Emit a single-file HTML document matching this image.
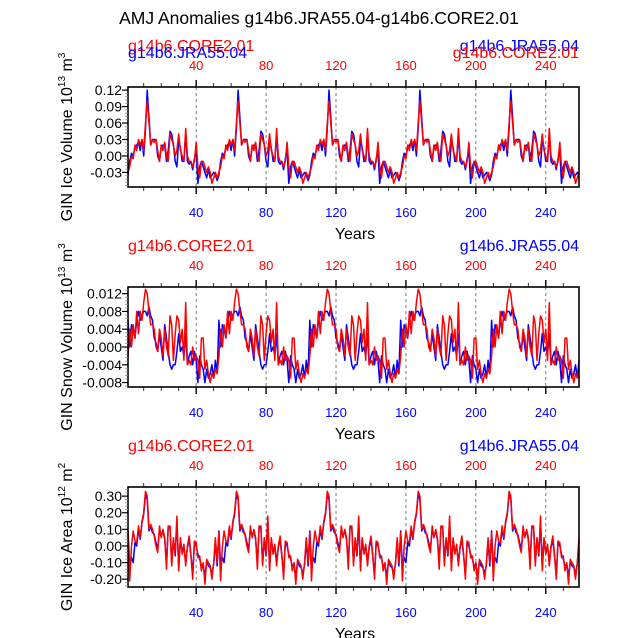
<!DOCTYPE html>
<html><head><meta charset="utf-8"><style>
html,body{margin:0;padding:0;background:#fff}
svg{display:block;font-family:"Liberation Sans",Arial,sans-serif}
</style></head><body>
<svg id="c" width="638" height="638" viewBox="0 0 638 638">
<text x="319" y="24" text-anchor="middle" font-size="17.5" fill="#000">AMJ Anomalies g14b6.JRA55.04-g14b6.CORE2.01</text>
</svg>
<script>
// ---- data (one forcing cycle of 52 years, repeated five times as in the runs) ----
const years = [];
for (let i = 1; i <= 259; i++) years.push(i);
const xTicks = [40, 80, 120, 160, 200, 240];

const iceVolCoreCycle = [-0.03,-0.02,0.0,-0.005,0.02,0.01,0.03,0.02,0.03,0.01,0.06,0.10,0.06,0.02,0.03,0.025,0.03,0.01,-0.01,0.02,0.01,0.025,0.0,-0.01,0.04,0.03,0.02,0.0,0.01,0.04,0.01,0.0,-0.01,0.05,0.0,-0.01,-0.01,-0.02,-0.01,0.025,-0.02,-0.04,-0.01,-0.01,-0.02,-0.03,-0.02,-0.03,-0.05,-0.04,-0.03,-0.04];
const iceVolJraCycle  = [-0.035,-0.01,0.005,0.0,0.015,0.02,0.025,0.01,0.03,0.0,0.05,0.12,0.07,0.02,0.03,0.03,0.03,0.0,-0.01,0.015,0.02,0.02,-0.01,0.01,0.045,0.04,0.02,-0.01,-0.02,0.03,0.015,-0.01,-0.01,0.04,-0.01,-0.015,-0.01,-0.025,-0.005,0.01,-0.05,-0.02,-0.01,-0.02,-0.03,-0.04,-0.025,-0.04,-0.035,-0.03,-0.035,-0.045];
const snowCoreCycle = [-0.002,0.004,0.0,0.005,0.002,0.008,0.003,0.008,0.006,0.010,0.013,0.012,0.008,0.005,0.005,0.004,0.0,-0.001,0.004,0.002,-0.002,0.004,0.0,-0.002,0.007,0.005,-0.003,0.003,0.007,0.006,0.001,0.004,-0.003,0.010,-0.004,-0.003,-0.004,0.0,-0.003,-0.002,-0.003,-0.007,0.002,0.002,-0.005,-0.003,-0.006,-0.008,-0.006,-0.007,-0.005,-0.006];
const snowJraCycle  = [0.006,0.0,0.005,0.004,0.002,0.006,0.008,0.006,0.007,0.008,0.008,0.007,0.009,0.007,0.006,0.002,0.001,-0.001,0.003,0.0,-0.003,0.005,0.002,-0.001,-0.004,-0.005,-0.004,-0.004,-0.001,0.003,-0.001,0.0,-0.002,0.003,-0.004,-0.002,-0.001,-0.004,-0.001,-0.003,-0.008,-0.002,-0.004,-0.005,-0.008,-0.005,-0.007,-0.006,-0.004,-0.007,-0.003,-0.006];
const areaCoreCycle = [0.08,-0.21,0.0,0.09,0.03,0.02,0.12,0.05,0.15,0.20,0.33,0.30,0.10,0.13,0.10,0.06,0.0,-0.04,0.12,0.05,0.10,0.05,-0.14,0.12,0.12,-0.12,0.05,-0.05,0.18,-0.15,0.05,-0.05,0.01,-0.12,0.0,0.06,-0.05,-0.20,0.03,0.02,-0.07,-0.06,-0.15,-0.10,-0.23,-0.08,-0.10,-0.12,-0.20,-0.10,0.05,-0.10];
const areaJraCycle  = [0.09,-0.12,-0.07,-0.10,0.02,0.0,0.10,0.04,0.14,0.19,0.31,0.28,0.09,0.12,0.08,0.07,0.02,-0.02,0.10,0.06,0.09,0.04,-0.10,0.11,0.11,-0.10,0.04,-0.06,0.15,-0.13,0.04,-0.04,0.0,-0.10,-0.01,0.04,-0.06,-0.17,0.02,0.0,-0.05,-0.08,-0.12,-0.11,-0.19,-0.09,-0.12,-0.13,-0.17,-0.11,0.03,-0.12];

const iceVolCore = [...iceVolCoreCycle,...iceVolCoreCycle,...iceVolCoreCycle,...iceVolCoreCycle,...iceVolCoreCycle].slice(0,259);
const iceVolJra  = [...iceVolJraCycle,...iceVolJraCycle,...iceVolJraCycle,...iceVolJraCycle,...iceVolJraCycle].slice(0,259);
const snowCore = [...snowCoreCycle,...snowCoreCycle,...snowCoreCycle,...snowCoreCycle,...snowCoreCycle].slice(0,259);
const snowJra  = [...snowJraCycle,...snowJraCycle,...snowJraCycle,...snowJraCycle,...snowJraCycle].slice(0,259);
const areaCore = [...areaCoreCycle,...areaCoreCycle,...areaCoreCycle,...areaCoreCycle,...areaCoreCycle].slice(0,259);
const areaJra  = [...areaJraCycle,...areaJraCycle,...areaJraCycle,...areaJraCycle,...areaJraCycle].slice(0,259);

const iceVolTicks = [-0.03,0.0,0.03,0.06,0.09,0.12];
const iceVolTickLabels = ["-0.03","0.00","0.03","0.06","0.09","0.12"];
const snowTicks = [-0.008,-0.004,0.0,0.004,0.008,0.012];
const snowTickLabels = ["-0.008","-0.004","0.000","0.004","0.008","0.012"];
const areaTicks = [-0.2,-0.1,0.0,0.1,0.2,0.3];
const areaTickLabels = ["-0.20","-0.10","0.00","0.10","0.20","0.30"];

const NS = "http://www.w3.org/2000/svg";
const svg = document.getElementById('c');
function el(tag, attrs, parent, text) {
  const e = document.createElementNS(NS, tag);
  for (const k in attrs) e.setAttribute(k, attrs[k]);
  if (text !== undefined) e.textContent = text;
  (parent || svg).appendChild(e);
  return e;
}
const X0 = 128, X1 = 579, XMIN = 1, XMAX = 259;
function xs(v) { return X0 + (v - XMIN) / (XMAX - XMIN) * (X1 - X0); }

function panel(p) {
  const g = el('g', {});
  
  
  const top = p.top, bot = p.top + 100;
  const ys = v => bot - (v - p.ymin) / (p.ymax - p.ymin) * (bot - top);
  xTicks.forEach(t => {
    const l = el('line', {x1: xs(t), x2: xs(t), y1: top, y2: bot, stroke: '#555', 'stroke-width': 0.8, 'stroke-dasharray': '3,3'}, g);
    
    
  });
  [[p.jra, '#0000ff', 'series-jra55'], [p.core, '#ff0000', 'series-core2']].forEach(s => {
    let d = '';
    s[0].forEach((v, i) => { d += (i ? 'L' : 'M') + xs(years[i]).toFixed(1) + ',' + ys(v).toFixed(1); });
    const path = el('path', {d: d, fill: 'none', stroke: s[1], 'stroke-width': 1.5, 'stroke-linejoin': 'round'}, g);
    
    
  });
  el('rect', {x: X0, y: top, width: X1 - X0, height: 100, fill: 'none', stroke: '#000', 'stroke-width': 1.6}, g);
  for (let t = 10; t <= 250; t += 10) {
    const major = t % 40 === 0;
    const len = major ? 7 : 4;
    el('line', {x1: xs(t), x2: xs(t), y1: top, y2: top - len, stroke: '#000', 'stroke-width': major ? 1.4 : 0.8}, g);
    el('line', {x1: xs(t), x2: xs(t), y1: bot, y2: bot + len, stroke: '#000', 'stroke-width': major ? 1.4 : 0.8}, g);
  }
  xTicks.forEach(t => {
    const a = el('text', {x: xs(t), y: top - 17, 'text-anchor': 'middle', 'font-size': 13, fill: '#ff0000'}, g, String(t));
    
    
    const b = el('text', {x: xs(t), y: bot + 30, 'text-anchor': 'middle', 'font-size': 13, fill: '#0000ff'}, g, String(t));
    
    
  });
  const step = p.ticks[1] - p.ticks[0];
  for (let v = p.ticks[0] - step; v <= p.ymax + 1e-9; v += step / 5) {
    if (v < p.ymin - 1e-9) continue;
    el('line', {x1: X0, x2: X0 - 3, y1: ys(v), y2: ys(v), stroke: '#888', 'stroke-width': 0.8}, g);
  }
  p.ticks.forEach((t, i) => {
    el('line', {x1: X0, x2: X0 - 6, y1: ys(t), y2: ys(t), stroke: '#000', 'stroke-width': 1.2}, g);
    const lab = el('text', {x: X0 - 6, y: ys(t) + 5, 'text-anchor': 'end', 'font-size': 14, fill: '#000'}, g, p.tickLabels[i]);
    
    
  });
  const yt = el('text', {transform: 'translate(72,' + (top + 50) + ') rotate(-90)', 'text-anchor': 'middle', 'font-size': 16, fill: '#000'}, g);
  
  
  el('tspan', {}, yt, p.ylabel + ' 10');
  el('tspan', {dy: -7, 'font-size': 10}, yt, p.exp);
  el('tspan', {dy: 7}, yt, ' m');
  el('tspan', {dy: -7, 'font-size': 10}, yt, p.unitExp);
  const xt = el('text', {x: 355, y: bot + 52, 'text-anchor': 'middle', 'font-size': 16, fill: '#000'}, g, 'Years');
  
  
  const c1 = el('text', {x: X0, y: top - 36, 'font-size': 16, fill: '#ff0000'}, g, 'g14b6.CORE2.01');
  
  
  const j1 = el('text', {x: X1, y: top - 36, 'text-anchor': 'end', 'font-size': 16, fill: '#0000ff'}, g, 'g14b6.JRA55.04');
  
  
  if (p.overlap) {
    const j2 = el('text', {x: X0, y: top - 29, 'font-size': 16, fill: '#0000ff'}, g, 'g14b6.JRA55.04');
    
    
    const c2 = el('text', {x: X1, y: top - 29, 'text-anchor': 'end', 'font-size': 16, fill: '#ff0000'}, g, 'g14b6.CORE2.01');
    
    
  }
}

panel({name: 'ice-volume-panel', top: 87, ymin: -0.0566, ymax: 0.1257, core: iceVolCore, jra: iceVolJra, ticks: iceVolTicks, tickLabels: iceVolTickLabels, ylabel: 'GIN Ice Volume', exp: '13', unitExp: '3', overlap: true});
panel({name: 'snow-volume-panel', top: 287, ymin: -0.009, ymax: 0.0135, core: snowCore, jra: snowJra, ticks: snowTicks, tickLabels: snowTickLabels, ylabel: 'GIN Snow Volume', exp: '13', unitExp: '3', overlap: false});
panel({name: 'ice-area-panel', top: 487, ymin: -0.247, ymax: 0.355, core: areaCore, jra: areaJra, ticks: areaTicks, tickLabels: areaTickLabels, ylabel: 'GIN Ice Area', exp: '12', unitExp: '2', overlap: false});
</script>
</body></html>
